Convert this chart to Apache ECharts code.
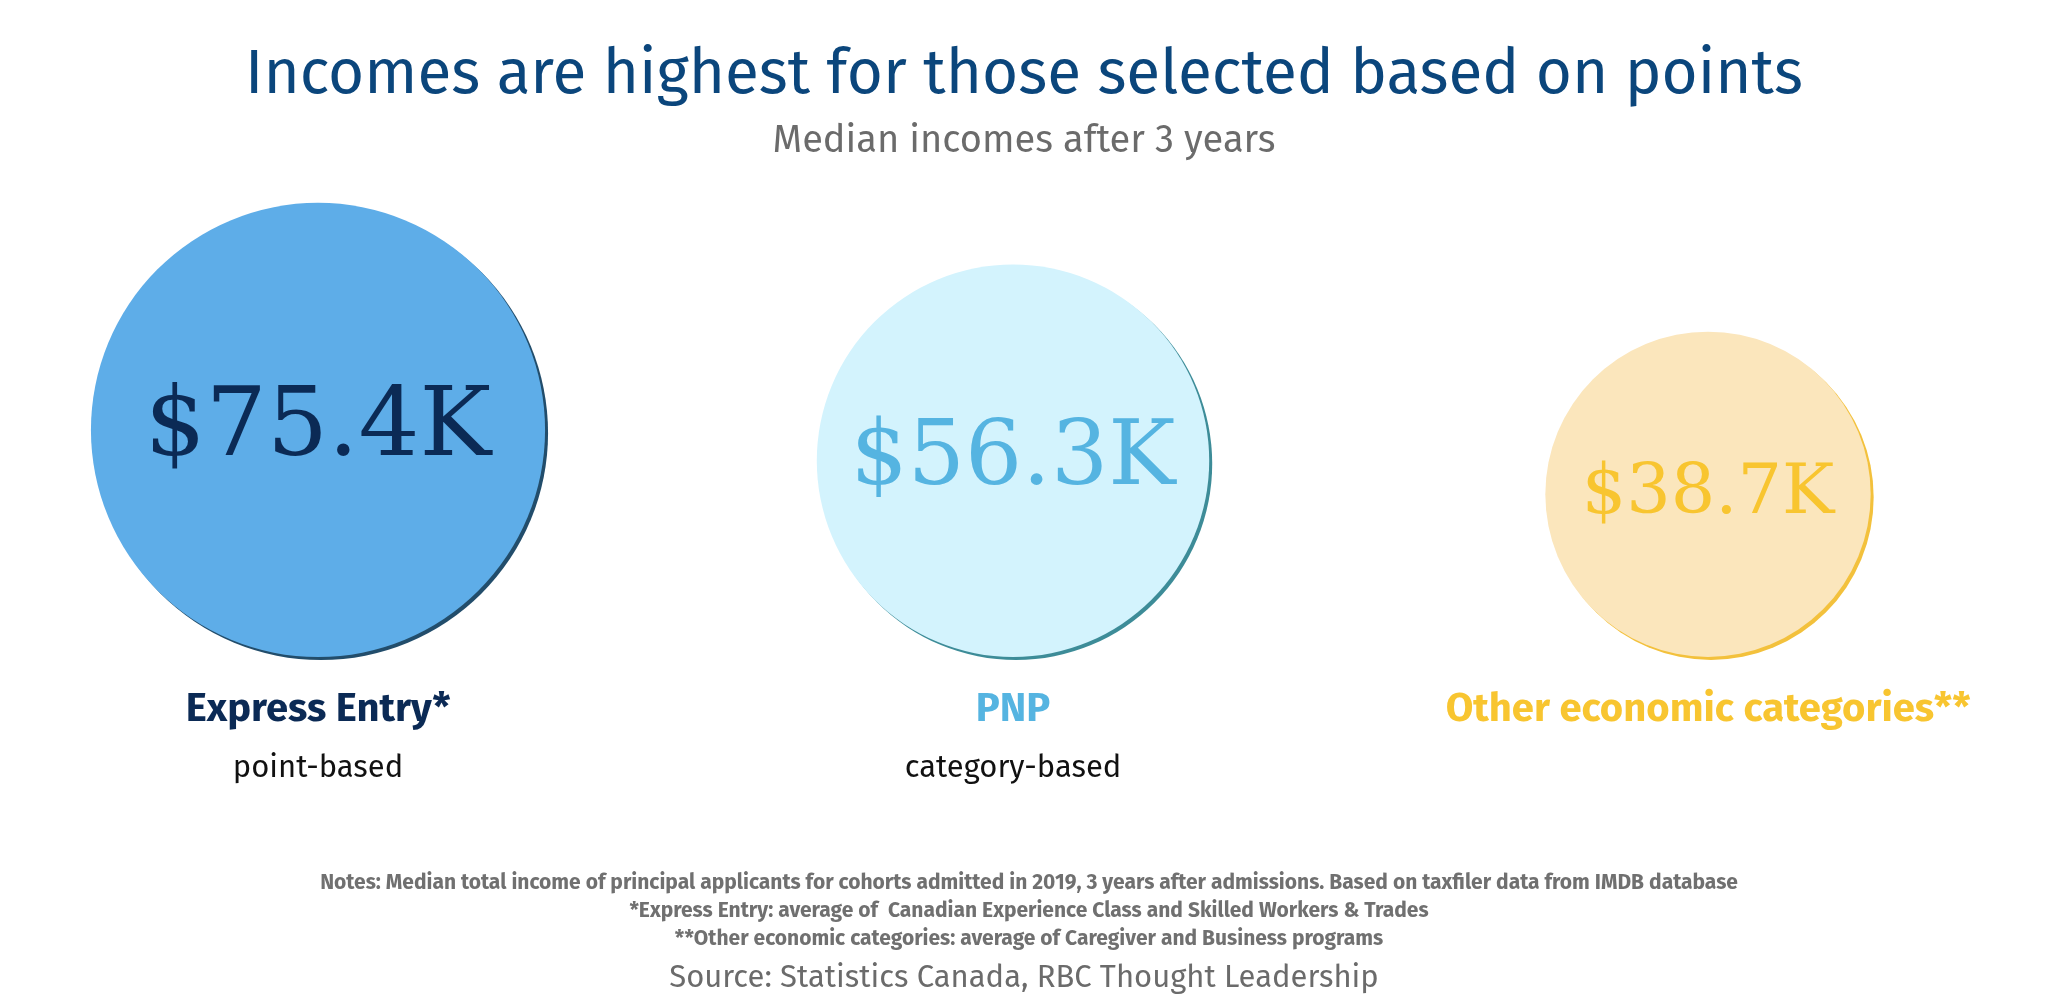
<!DOCTYPE html><html><head><meta charset="utf-8"><script src="https://cdn.jsdelivr.net/npm/echarts@6/dist/echarts.min.js"></script>
<style>html,body{margin:0;padding:0;background:#fff}#c{width:2048px;height:1002px}</style></head><body><div id="c"></div><script>
const categories=['Express Entry*','PNP','Other economic categories**'];
const subtitles=['point-based','category-based',''];
const values=[75.4,56.3,38.7];
const fills=['#5eade8','#d3f3fd','#fbe6bc'];
const rims=['#224d6b','#3d8c98','#f3c13c'];
const textColors=['#0b2a55','#55b4e1','#f8c530'];
const labelSizes=[96,90,70];
const chart=echarts.init(document.getElementById('c'));
const rich={};
textColors.forEach((c,i)=>{rich['n'+i]={fontFamily:'Fira Sans, Open Sans',fontWeight:'bold',fontSize:40,color:c,lineHeight:58};});
rich.s={fontFamily:'Fira Sans, Open Sans',fontSize:31,color:'#111',lineHeight:58};
chart.setOption({
 title:[{text:'Incomes are highest for those selected based on points',left:'center',top:40,textStyle:{fontFamily:'Fira Sans, Open Sans',fontWeight:'normal',fontSize:62,color:'#0b467c'}},
 {text:'Median incomes after 3 years',left:'center',top:117,textStyle:{fontFamily:'Fira Sans, Open Sans',fontWeight:'normal',fontSize:38,color:'#6b6b6b'}},
 {text:'Notes: Median total income of principal applicants for cohorts admitted in 2019, 3 years after admissions. Based on taxfiler data from IMDB database\n*Express Entry: average of  Canadian Experience Class and Skilled Workers & Trades\n**Other economic categories: average of Caregiver and Business programs',left:1024,top:864,textAlign:'center',textStyle:{fontFamily:'Fira Sans, Open Sans',fontWeight:'bold',fontSize:21,lineHeight:28,color:'#707070'}},
 {text:'Source: Statistics Canada, RBC Thought Leadership',left:'center',top:958,textStyle:{fontFamily:'Fira Sans, Open Sans',fontWeight:'normal',fontSize:31,color:'#6b6b6b'}}],
 grid:{left:318,right:340,top:150,bottom:345},
 xAxis:{type:'category',data:categories,boundaryGap:false,axisLine:{show:false},axisTick:{show:false},
  axisLabel:{interval:0,margin:24,formatter:(v,i)=>'{n'+i+'|'+v+'}\n{s|'+subtitles[i]+'}',rich:rich}},
 yAxis:{type:'value',min:0,max:1,show:false},
 series:[{type:'scatter',symbol:'circle',symbolOffset:[0,'-50%'],
  symbolSize:(v,p)=>52.3*Math.sqrt(values[p.dataIndex]),
  data:values.map((v,i)=>({value:[categories[i],0],
   itemStyle:{color:fills[i],shadowColor:rims[i],shadowOffsetX:3,shadowOffsetY:3,shadowBlur:0,opacity:1},
   label:{show:true,position:'inside',formatter:'$'+v.toFixed(1)+'K',fontFamily:'DejaVu Serif',fontSize:labelSizes[i],color:textColors[i]}})),
  emphasis:{disabled:true}}]
});
</script></body></html>
